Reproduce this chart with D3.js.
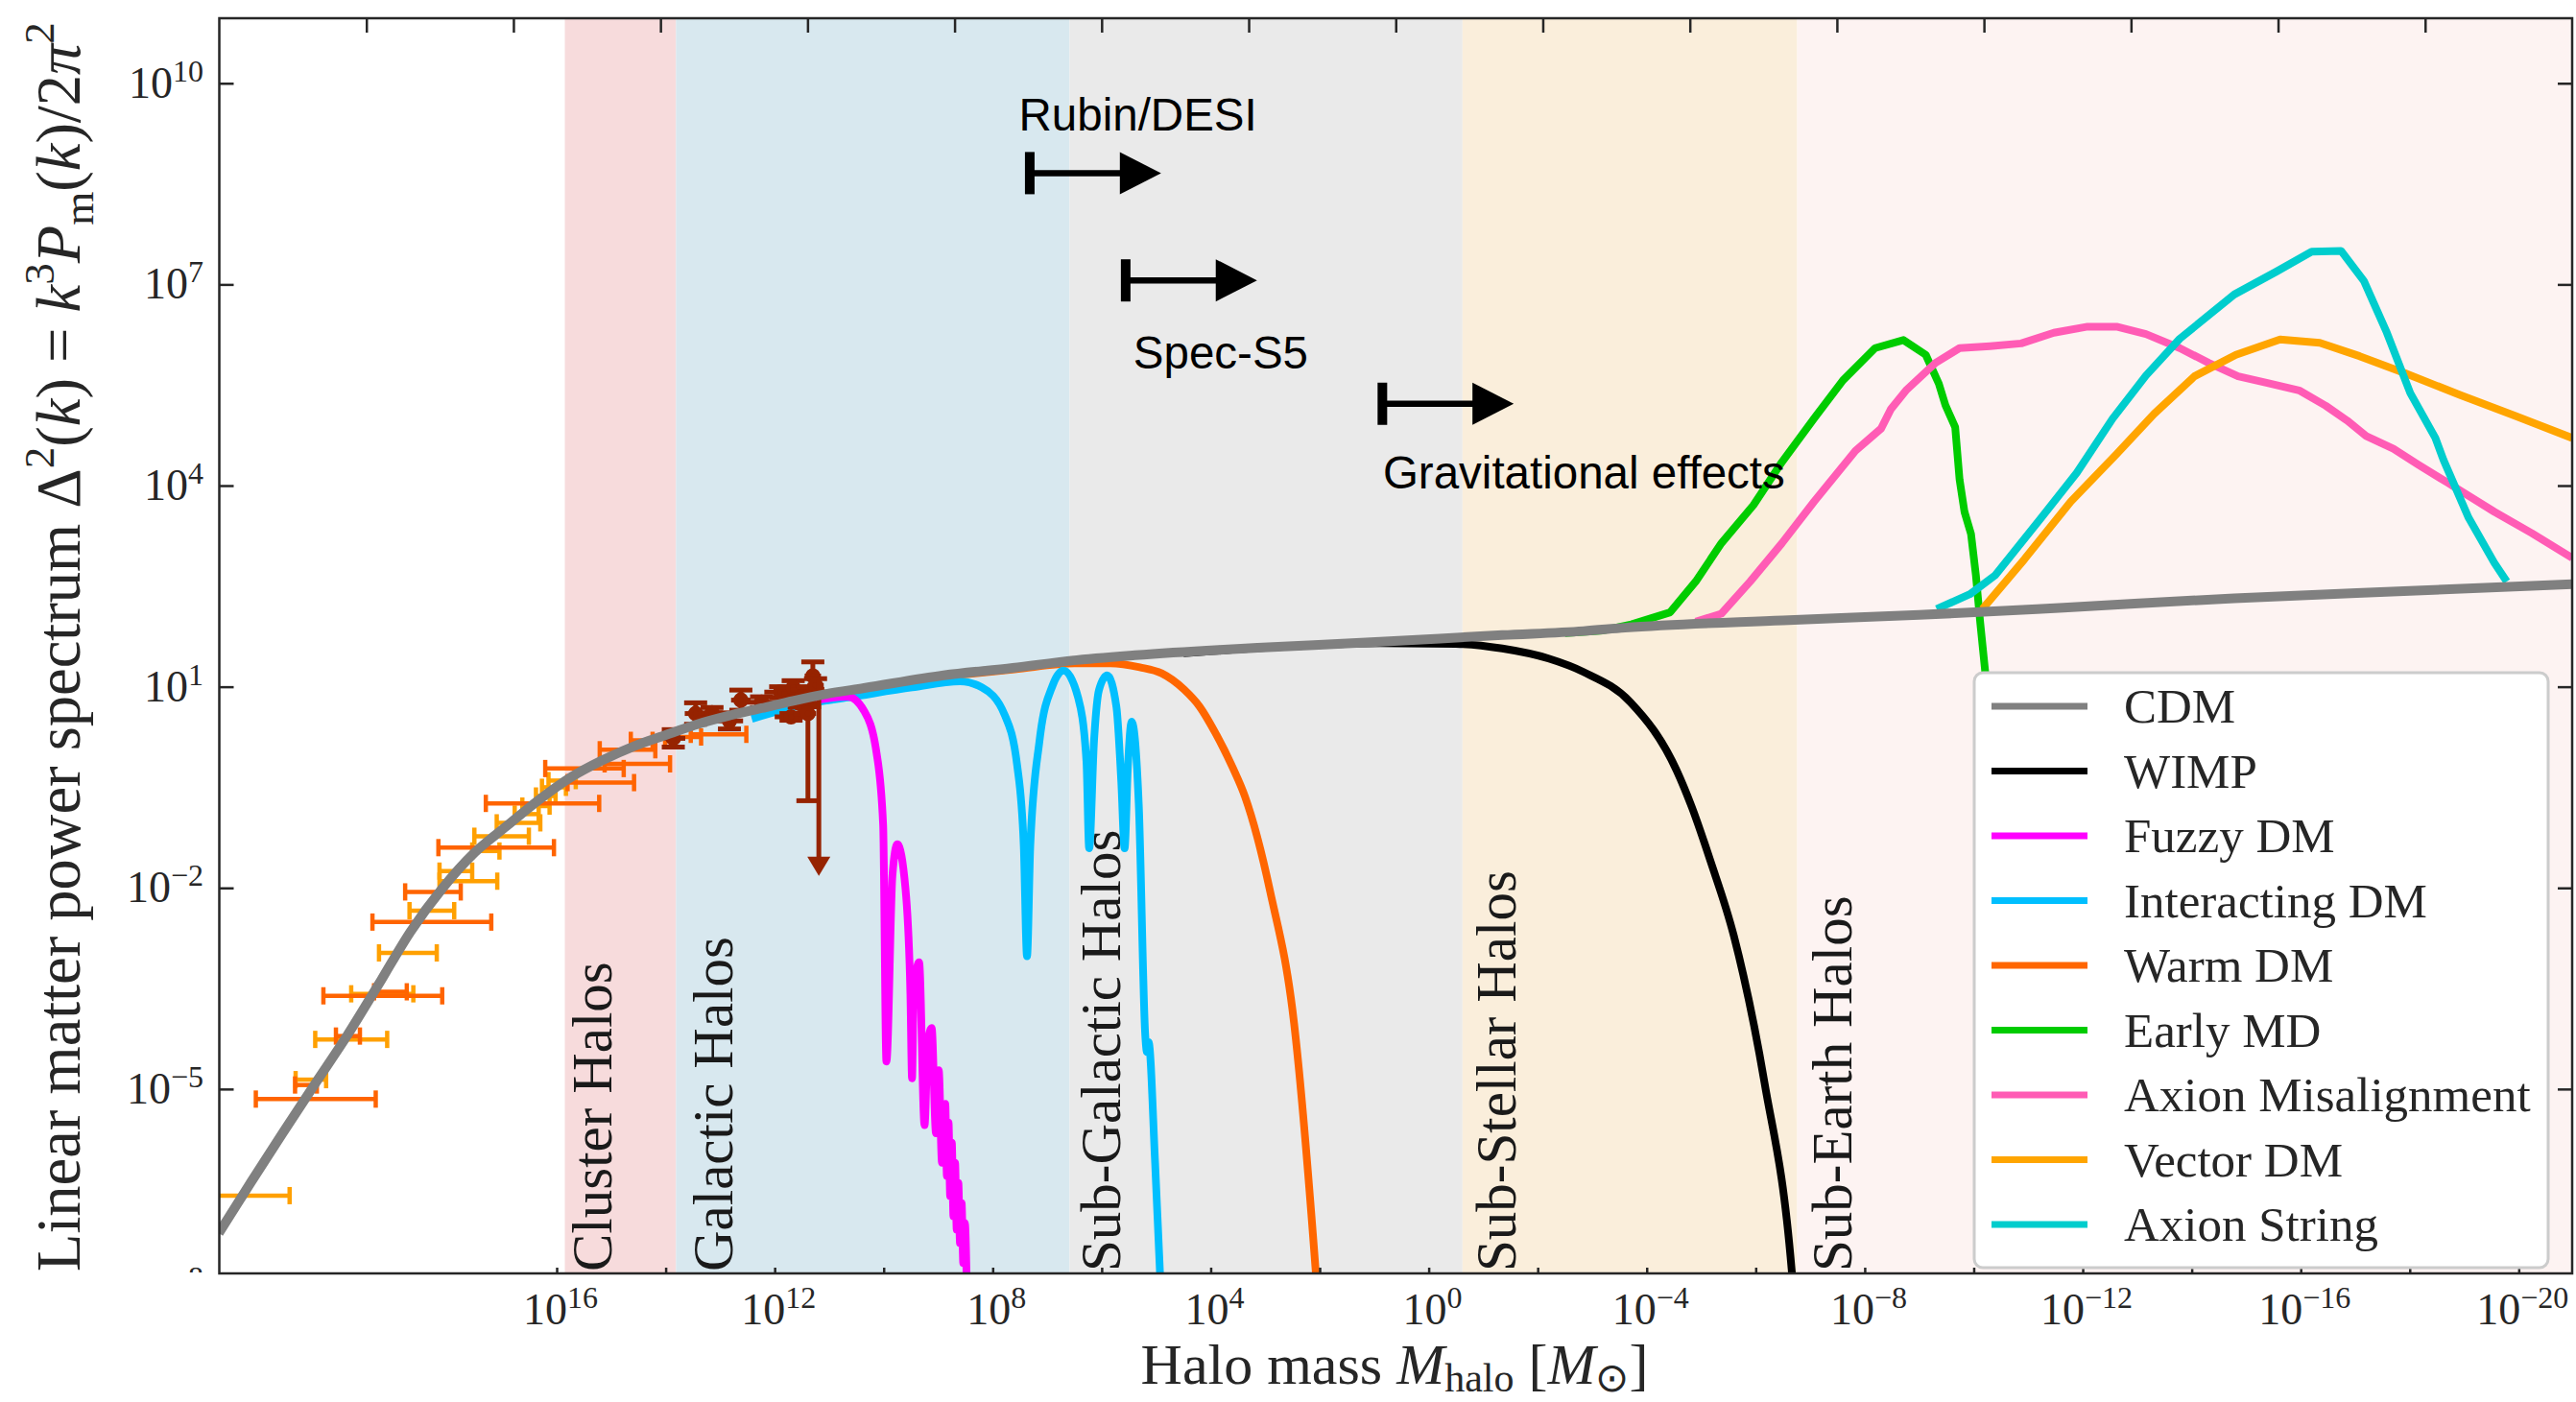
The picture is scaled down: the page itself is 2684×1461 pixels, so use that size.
<!DOCTYPE html>
<html>
<head>
<meta charset="utf-8">
<script src="https://cdn.jsdelivr.net/npm/d3@7"></script>
<style>
  body { margin: 0; background: #fff; }
  svg { display: block; }
</style>
</head>
<body>
<div id="chart"></div>
<script>
// all values are log10 of halo mass [Msun] and log10 of Delta^2(k)

const cdm = [[22.2,-7.15],[21.61,-6.39],[21.03,-5.66],[20.44,-4.93],[19.85,-4.21],[19.26,-3.43],[18.68,-2.65],
  [18.09,-2.0],[17.5,-1.47],[16.92,-1.08],[16.33,-0.69],[15.74,-0.35],[15.17,-0.1],[14.59,0.11],[14.0,0.28],
  [13.42,0.44],[12.83,0.57],[12.24,0.68],[11.66,0.79],[11.07,0.89],[10.36,0.98],[8.9,1.17],[7.63,1.28],
  [6.55,1.39],[5.39,1.47],[3.85,1.55],[3.14,1.58],[0.89,1.67],[-1.35,1.77],[-2.84,1.83],[-3.6,1.88],
  [-6.5,1.99],[-9.0,2.07],[-11.65,2.18],[-14.78,2.32],[-18.0,2.43],[-20.98,2.53]];

const wimp = [[4.5,1.5],[3.0,1.58],[0.89,1.65],[-0.5,1.64],[-1.35,1.57],[-2.2,1.42],[-2.84,1.22],[-3.7,0.77],
  [-4.55,-0.25],[-4.83,-0.8],[-5.17,-1.6],[-5.6,-2.72],[-6.16,-4.9],[-6.66,-7.7],[-6.72,-8.3]];

const fuzzy = [[11.5,0.76],[11.0,0.83],[10.66,0.85],[10.36,0.64],[10.13,0.01],[10.01,-1.06],[9.95,-4.59],
  [9.84,-1.82],[9.75,-1.35],[9.6,-2.01],[9.51,-3.58],[9.48,-4.84],[9.45,-3.6],[9.35,-3.11],[9.25,-5.54],
  [9.19,-4.3],[9.12,-4.09],[9.04,-5.66],[8.99,-4.72],[8.93,-6.1],[8.87,-5.22],[8.84,-6.3],[8.81,-5.5],
  [8.78,-6.6],[8.75,-5.8],[8.72,-6.9],[8.69,-6.1],[8.66,-7.1],[8.63,-6.4],[8.6,-7.3],[8.57,-6.7],
  [8.54,-7.6],[8.51,-7.0],[8.47,-8.2]];

const interacting = [[12.42,0.52],[11.24,0.77],[10.66,0.84],[9.48,0.99],[8.6,1.08],[8.2,0.99],[7.78,0.58],
  [7.55,-0.18],[7.43,-1.37],[7.37,-3.02],[7.31,-1.37],[7.14,0.2],[6.9,1.02],[6.7,1.24],[6.43,0.83],
  [6.28,-0.11],[6.23,-1.41],[6.14,0.2],[6.05,0.95],[5.9,1.17],[5.73,0.7],[5.64,-0.43],[5.58,-1.41],
  [5.52,-0.2],[5.45,0.48],[5.32,-0.75],[5.2,-4.21],[5.17,-4.45],[5.14,-4.3],[5.02,-6.1],[4.9,-8.3]];

const warm = [[8.9,1.15],[7.6,1.26],[6.5,1.35],[5.84,1.35],[5.3,1.29],[4.9,1.2],[4.49,0.96],[4.2,0.7],
  [3.92,0.32],[3.6,-0.2],[3.37,-0.64],[2.91,-2.05],[2.47,-4.02],[2.07,-7.75],[2.02,-8.3]];

const earlyMD = [[-2.5,1.8],[-3.2,1.84],[-3.72,1.93],[-4.43,2.11],[-4.9,2.57],[-5.37,3.14],[-5.96,3.71],
  [-6.48,4.35],[-7.07,5.0],[-7.6,5.57],[-8.19,6.05],[-8.71,6.17],[-9.12,5.95],[-9.36,5.52],[-9.48,5.2],
  [-9.66,4.87],[-9.74,4.09],[-9.83,3.61],[-9.95,3.28],[-10.04,2.66],[-10.12,1.95],[-10.21,1.23],
  [-10.3,0.3],[-10.4,-1.0]];

const axionMis = [[-4.9,1.97],[-5.37,2.09],[-5.9,2.57],[-6.48,3.14],[-7.07,3.76],[-7.83,4.52],[-8.3,4.85],
  [-8.48,5.14],[-8.77,5.43],[-9.3,5.83],[-9.74,6.05],[-10.3,6.08],[-10.87,6.12],[-11.47,6.28],[-12.09,6.37],
  [-12.62,6.37],[-13.16,6.26],[-13.78,6.05],[-14.31,5.83],[-14.85,5.63],[-15.39,5.53],[-15.97,5.42],
  [-16.46,5.19],[-16.85,4.97],[-17.2,4.74],[-17.7,4.55],[-18.16,4.31],[-18.7,4.04],[-19.55,3.61],
  [-20.24,3.29],[-20.98,2.92]];

const vectorDM = [[-10.16,2.16],[-10.93,2.9],[-11.78,3.76],[-12.62,4.47],[-13.31,5.07],[-14.05,5.63],
  [-14.81,5.95],[-15.62,6.18],[-16.35,6.13],[-17.08,5.93],[-17.93,5.67],[-18.93,5.35],[-19.93,5.04],[-20.98,4.71]];

const axionString = [[-9.32,2.16],[-9.93,2.38],[-10.39,2.66],[-11.24,3.52],[-11.89,4.19],[-12.55,5.0],
  [-13.16,5.64],[-13.78,6.19],[-14.78,6.85],[-15.55,7.19],[-16.2,7.49],[-16.74,7.5],[-17.16,7.05],
  [-17.58,6.28],[-18.01,5.38],[-18.47,4.71],[-18.62,4.38],[-19.08,3.52],[-19.55,2.85],[-19.78,2.57]];

// measurements: [log M, log D2, half width of x error in decades]
const lightPts = [[21.76,-6.59,0.86],[20.51,-4.86,0.28],[19.77,-4.26,0.66],[19.2,-3.58,0.57],[18.73,-2.97,0.53],
  [18.29,-2.34,0.41],[17.85,-1.75,0.3],[17.62,-1.9,0.53],[17.3,-1.45,0.25],[17.01,-1.23,0.5],[16.7,-1.03,0.4],
  [16.55,-0.9,0.22],[16.38,-0.78,0.25],[16.2,-0.63,0.18],[16.05,-0.5,0.22],[15.9,-0.4,0.25]];
const darkPts = [[20.42,-5.15,1.1],[20.6,-4.94,0.2],[19.83,-4.21,0.22],[19.19,-3.61,1.09],[19.05,-3.55,0.3],
  [18.29,-2.51,1.09],[18.27,-2.06,0.51],[17.11,-1.4,1.06],[16.26,-0.74,1.04],[15.49,-0.22,0.72],
  [15.19,-0.43,0.61],[14.52,-0.15,0.6],[14.7,0.06,0.51],[14.44,0.2,0.2],[13.68,0.25,0.33],[13.03,0.29,0.51]];
// [log M, log D2, lower y error, upper y error, half width of x error]
const brownPts = [[13.86,0.23,0.13,0.13,0.22],[13.45,0.6,0.16,0.16,0.2],[13.15,0.61,0.08,0.08,0.2],
  [12.83,0.49,0.12,0.12,0.25],[12.62,0.8,0.15,0.15,0.18],[12.24,0.77,0.08,0.08,0.3],[11.89,0.92,0.08,0.08,0.3],
  [11.66,0.99,0.1,0.1,0.3],[11.7,0.55,0.05,0.05,0.3],[11.55,0.75,0.05,0.05,0.35],[11.5,0.85,0.1,0.1,0.25],
  [11.45,0.7,0.1,0.1,0.3],[11.3,1.16,0.2,0.21,0.15],[11.39,0.6,1.3,0.4,0.1],[11.25,1.02,0.1,0.1,0.15]];
// upper limit: [log M, top, arrow tip]
const upperLimit = [11.19, 1.1, -1.82];

const seriesNames = ["CDM","WIMP","Fuzzy DM","Interacting DM","Warm DM","Early MD","Axion Misalignment","Vector DM","Axion String"];
const seriesData = [cdm, wimp, fuzzy, interacting, warm, earlyMD, axionMis, vectorDM, axionString];
const seriesColors = ["#808080","#000000","#ff00ff","#00bfff","#ff6600","#00cc00","#ff5cb5","#ffa500","#00cdcd"];

const bandNames = ["Cluster Halos","Galactic Halos","Sub-Galactic Halos","Sub-Stellar Halos","Sub-Earth Halos"];
const bandEdges = [[15.85,13.81],[13.81,6.59],[6.59,-0.62],[-0.62,-6.76],[-6.76,-20.98]];
const bandLabelAt = [15.0,12.78,5.66,-1.59,-7.76];
const bandColors = ["#f7dbdc","#d8e8ef","#eaeaea","#faeedb","#fdf3f2"];

const probeNames = ["Rubin/DESI","Spec-S5","Gravitational effects"];
const probeStart = [7.32, 5.56, 0.85];
const probeLevel = [8.66, 7.06, 5.22];
const probeLabelM = [7.52, 5.42, 0.84];
const probeLabelD = [9.30, 5.74, 3.96];

const yTickExp = [10, 7, 4, 1, -2, -5, -8];
const xTickExp = [16,14,12,10,8,6,4,2,0,-2,-4,-6,-8,-10,-12,-14,-16,-18,-20];
const xLabelExp = [16, 12, 8, 4, 0, -4, -8, -12, -16, -20];
const kTickExp = [-3,-2,-1,0,1,2,3,4,5,6,7,8,9,10,11];

const W = 2684, H = 1461;
const L = 228.5, R = 2680, T = 19, B = 1327;
const serif = "'Liberation Serif', 'Times New Roman', serif";
const sans = "'Liberation Sans', Arial, sans-serif";
const ink = "#262626";

const x = d3.scaleLog().domain([10 ** 22.19, 10 ** -20.98]).range([L, R]);
const y = d3.scaleLog().domain([10 ** -7.75, 10 ** 10.97]).range([B, T]);
const k = d3.scaleLog().domain([1e-4, 1e12]).range([L, R]);
const X = e => x(10 ** e);
const Y = e => y(10 ** e);

const svg = d3.select("#chart").append("svg")
  .attr("width", W).attr("height", H)
  .style("background", "#fff");

const defs = svg.append("defs");
defs.append("clipPath").attr("id", "plot")
  .append("rect").attr("x", L).attr("y", T).attr("width", R - L).attr("height", B - T);
defs.append("clipPath").attr("id", "ylab")
  .append("rect").attr("x", 0).attr("y", 0).attr("width", L).attr("height", B - 1);

function richText(sel, parts, size, subShift) {
  let shift = 0;
  parts.forEach(([t, kind]) => {
    const target = kind === "sup" ? -0.42 * size : kind === "sub" ? subShift * size : 0;
    const ts = sel.append("tspan").text(t).attr("dy", target - shift);
    shift = target;
    if (kind === "sup" || kind === "sub") ts.attr("font-size", size * 0.7);
    if (kind === "i") ts.attr("font-style", "italic");
  });
}

const plot = svg.append("g").attr("clip-path", "url(#plot)");

// shaded halo bands
plot.selectAll(".band")
  .data(bandEdges)
  .enter().append("rect")
  .attr("class", "band")
  .attr("x", d => X(d[0]))
  .attr("y", T)
  .attr("width", d => X(d[1]) - X(d[0]))
  .attr("height", B - T)
  .attr("fill", (d, i) => bandColors[i]);

plot.selectAll(".bandLabel")
  .data(bandNames)
  .enter().append("text")
  .attr("class", "bandLabel")
  .attr("transform", (d, i) => "translate(" + X(bandLabelAt[i]) + "," + (B - 2) + ") rotate(-90)")
  .attr("font-family", serif)
  .attr("font-size", 59)
  .attr("fill", "#1a1a1a")
  .text(d => d);

// model curves
const smooth = [true, true, true, true, true, false, false, false, false];
const line = d3.line().x(d => X(d[0])).y(d => Y(d[1]));
const drawOrder = [1, 4, 3, 2, 5, 6, 7, 8];
drawOrder.forEach(i => {
  plot.append("path")
    .datum(seriesData[i])
    .attr("d", line.curve(smooth[i] ? d3.curveMonotoneX : d3.curveLinear))
    .attr("fill", "none")
    .attr("stroke", seriesColors[i])
    .attr("stroke-width", 8)
    .attr("stroke-linejoin", "round");
});

// error bars
function xErrBars(data, color) {
  const g = plot.append("g").attr("stroke", color).attr("stroke-width", 4.5);
  data.forEach(d => {
    const x0 = X(d[0] + d[2]), x1 = X(d[0] - d[2]), yc = Y(d[1]);
    g.append("line").attr("x1", x0).attr("x2", x1).attr("y1", yc).attr("y2", yc);
    g.append("line").attr("x1", x0).attr("x2", x0).attr("y1", yc - 9).attr("y2", yc + 9);
    g.append("line").attr("x1", x1).attr("x2", x1).attr("y1", yc - 9).attr("y2", yc + 9);
  });
}
xErrBars(lightPts, "#ffa000");
xErrBars(darkPts, "#ff6400");

const brownColor = "#962300";
const bg = plot.append("g").attr("stroke", brownColor).attr("stroke-width", 5);
brownPts.forEach(d => {
  const xc = X(d[0]), yc = Y(d[1]);
  const ylo = Y(d[1] - d[2]), yhi = Y(d[1] + d[3]);
  const x0 = X(d[0] + d[4]), x1 = X(d[0] - d[4]);
  bg.append("line").attr("x1", xc).attr("x2", xc).attr("y1", ylo).attr("y2", yhi);
  bg.append("line").attr("x1", xc - 12).attr("x2", xc + 12).attr("y1", ylo).attr("y2", ylo);
  bg.append("line").attr("x1", xc - 12).attr("x2", xc + 12).attr("y1", yhi).attr("y2", yhi);
  bg.append("line").attr("x1", x0).attr("x2", x1).attr("y1", yc).attr("y2", yc);
  bg.append("circle").attr("cx", xc).attr("cy", yc).attr("r", 5.5).attr("fill", brownColor);
});
{
  const xc = X(upperLimit[0]), yt = Y(upperLimit[1]), yb = Y(upperLimit[2]);
  bg.append("line").attr("x1", xc).attr("x2", xc).attr("y1", yt).attr("y2", yb - 14);
  bg.append("path")
    .attr("d", "M" + (xc - 12) + "," + (yb - 20) + "L" + (xc + 12) + "," + (yb - 20) + "L" + xc + "," + yb + "Z")
    .attr("fill", brownColor).attr("stroke", "none");
}

// CDM on top
plot.append("path")
  .datum(cdm)
  .attr("d", line.curve(d3.curveMonotoneX))
  .attr("fill", "none")
  .attr("stroke", seriesColors[0])
  .attr("stroke-width", 10);

// survey reach arrows
const arrowLen = 2.41;
probeNames.forEach((name, i) => {
  const x0 = X(probeStart[i]), x1 = X(probeStart[i] - arrowLen), yc = Y(probeLevel[i]);
  const g = svg.append("g");
  g.append("line").attr("x1", x0).attr("x2", x0).attr("y1", yc - 22).attr("y2", yc + 22)
    .attr("stroke", "#000").attr("stroke-width", 10);
  g.append("line").attr("x1", x0).attr("x2", x1 - 38).attr("y1", yc).attr("y2", yc)
    .attr("stroke", "#000").attr("stroke-width", 6.5);
  g.append("path")
    .attr("d", "M" + (x1 - 43) + "," + (yc - 22) + "L" + x1 + "," + yc + "L" + (x1 - 43) + "," + (yc + 22) + "Z")
    .attr("fill", "#000");
  g.append("text")
    .attr("x", X(probeLabelM[i])).attr("y", Y(probeLabelD[i]))
    .attr("font-family", sans).attr("font-size", 47.5).attr("fill", "#000")
    .text(name);
});

// axes, ticks pointing inward
function styleAxis(g) {
  g.select(".domain").remove();
  g.selectAll(".tick line").attr("stroke", ink).attr("stroke-width", 2.5);
}
svg.append("g").attr("transform", "translate(" + L + ",0)")
  .call(d3.axisLeft(y).tickValues(yTickExp.slice(0, 6).map(e => 10 ** e)).tickSize(-15).tickFormat(""))
  .call(styleAxis);
svg.append("g").attr("transform", "translate(" + R + ",0)")
  .call(d3.axisRight(y).tickValues(yTickExp.slice(0, 6).map(e => 10 ** e)).tickSize(-15).tickFormat(""))
  .call(styleAxis);
svg.append("g").attr("transform", "translate(0," + B + ")")
  .call(d3.axisBottom(x).tickValues(xTickExp.map(e => 10 ** e)).tickSize(-6).tickFormat(""))
  .call(styleAxis);
svg.append("g").attr("transform", "translate(0," + T + ")")
  .call(d3.axisTop(k).tickValues(kTickExp.map(e => 10 ** e)).tickSize(-15).tickFormat(""))
  .call(styleAxis);

svg.append("rect")
  .attr("x", L).attr("y", T).attr("width", R - L).attr("height", B - T)
  .attr("fill", "none").attr("stroke", ink).attr("stroke-width", 2.5);

const fmtExp = e => (e < 0 ? "\u2212" + (-e) : String(e));

// y tick labels
const ylabG = svg.append("g").attr("clip-path", "url(#ylab)");
yTickExp.forEach(e => {
  const t = ylabG.append("text")
    .attr("x", 212).attr("y", Y(e) + 15)
    .attr("text-anchor", "end")
    .attr("font-family", serif).attr("font-size", 46).attr("fill", ink);
  t.append("tspan").text("10");
  t.append("tspan").attr("dy", -17).attr("font-size", 32).text(fmtExp(e));
});

// x tick labels
xLabelExp.forEach(e => {
  const t = svg.append("text")
    .attr("x", X(e) + 4).attr("y", 1380)
    .attr("text-anchor", "middle")
    .attr("font-family", serif).attr("font-size", 46).attr("fill", ink);
  t.append("tspan").text("10");
  t.append("tspan").attr("dy", -17).attr("font-size", 32).text(fmtExp(e));
});

// axis titles
const xTitle = svg.append("text")
  .attr("x", 1453).attr("y", 1442)
  .attr("text-anchor", "middle")
  .attr("font-family", serif).attr("font-size", 60).attr("fill", ink);
richText(xTitle, [["Halo mass ", "n"], ["M", "i"], ["halo", "sub"], [" [", "n"], ["M", "i"], ["\u2299", "sub"], ["]", "n"]], 60, 0.14);

const yTitle = svg.append("text")
  .attr("transform", "translate(83,674) rotate(-90)")
  .attr("text-anchor", "middle")
  .attr("font-family", serif).attr("font-size", 64.5).attr("fill", ink);
richText(yTitle, [["Linear matter power spectrum ", "n"], ["\u0394", "n"], ["2", "sup"], ["(", "n"], ["k", "i"],
  [") = ", "n"], ["k", "i"], ["3", "sup"], ["P", "i"], ["m", "sub"], ["(", "n"], ["k", "i"], [")/2", "n"],
  ["\u03c0", "i"], ["2", "sup"]], 64.5, 0.22);

// legend
const lg = svg.append("g");
lg.append("rect")
  .attr("x", 2057).attr("y", 701).attr("width", 598).attr("height", 620)
  .attr("rx", 9)
  .attr("fill", "#fff")
  .attr("stroke", "#cccccc").attr("stroke-width", 3);
seriesNames.forEach((name, i) => {
  const ry = 736 + i * 67.5;
  lg.append("line")
    .attr("x1", 2075).attr("x2", 2175).attr("y1", ry).attr("y2", ry)
    .attr("stroke", seriesColors[i]).attr("stroke-width", 7);
  lg.append("text")
    .attr("x", 2213).attr("y", ry + 17)
    .attr("font-family", serif).attr("font-size", 51).attr("fill", ink)
    .text(name);
});
</script>
</body>
</html>
